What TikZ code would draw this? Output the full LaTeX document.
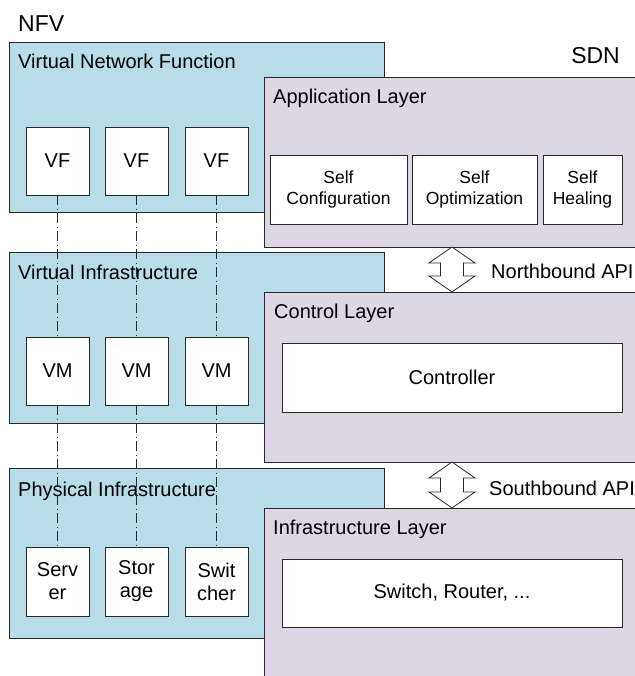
\documentclass[tikz,border=0pt]{standalone}
\usepackage{fontspec}
\setmainfont{Liberation Sans}
\definecolor{nfvblue}{RGB}{183,221,232}
\definecolor{sdnpurple}{RGB}{221,215,229}
\definecolor{edgegray}{RGB}{40,40,40}
\newcommand\dblblock[2]{%
  \draw[blockarrow] (#1) -- ([shift={(23,16)}]#1) -- ([shift={(11.5,16)}]#1)
    -- ([shift={(11.5,-16)}]#2) -- ([shift={(23,-16)}]#2) -- (#2)
    -- ([shift={(-23,-16)}]#2) -- ([shift={(-11.5,-16)}]#2)
    -- ([shift={(-11.5,16)}]#1) -- ([shift={(-23,16)}]#1) -- cycle;}
\begin{document}
\begin{tikzpicture}[x=1pt,y=-1pt,
  layer/.style={draw=edgegray, line width=0.8pt, inner sep=0pt, outer sep=0pt, anchor=north west},
  nfvlayer/.style={layer, fill=nfvblue},
  sdnlayer/.style={layer, fill=sdnpurple},
  inbox/.style={draw=edgegray, line width=0.8pt, fill=white, inner sep=0pt, outer sep=0pt, anchor=north west, align=center, font=\fontsize{20}{23}\selectfont},
  smallbox/.style={inbox, minimum width=63pt},
  selfbox/.style={inbox, minimum height=69pt, font=\fontsize{17.5}{20.5}\selectfont},
  lbl/.style={anchor=base west, inner sep=0pt, font=\fontsize{20}{24}\selectfont},
  ttl/.style={inner sep=0pt, font=\fontsize{23}{26}\selectfont},
  link/.style={line width=0.8pt, draw=edgegray, dash pattern=on 10pt off 3.5pt on 1pt off 3.5pt},
  blockarrow/.style={draw=edgegray, line width=0.8pt, fill=white, line join=miter}
]
\useasboundingbox (0,0) rectangle (634,676);

% titles
\node[ttl, anchor=base west] (nfv) at (18,31.5) {NFV};
\node[ttl, anchor=base east] (sdn) at (620,63.3) {SDN};

% ---- Virtual Network Function / Application Layer
\node[nfvlayer, minimum width=375pt, minimum height=170pt] (vnf) at (9,42) {};
\node[lbl] (vnflbl) at (18,68.5) {Virtual Network Function};
\node[smallbox, minimum height=68pt] (vf1) at (26,127) {VF};
\node[smallbox, minimum height=68pt] (vf2) at (105,127) {VF};
\node[smallbox, minimum height=68pt] (vf3) at (185,127) {VF};

\node[sdnlayer, minimum width=376pt, minimum height=170pt] (app) at (264,77) {};
\node[lbl] (applbl) at (273,103.3) {Application Layer};
\node[selfbox, minimum width=137pt] (sc) at (270,155) {Self\\Configuration};
\node[selfbox, minimum width=125pt] (so) at (412,155) {Self\\Optimization};
\node[selfbox, minimum width=79pt] (sh) at (543,155) {Self\\Healing};

% ---- Virtual Infrastructure / Control Layer
\node[nfvlayer, minimum width=375pt, minimum height=171pt] (vi) at (9,252) {};
\node[lbl] (vilbl) at (18,279) {Virtual Infrastructure};
\node[smallbox, minimum height=68pt] (vm1) at (26,337) {VM};
\node[smallbox, minimum height=68pt] (vm2) at (105,337) {VM};
\node[smallbox, minimum height=68pt] (vm3) at (185,337) {VM};

\node[sdnlayer, minimum width=376pt, minimum height=170pt] (ctl) at (264,292) {};
\node[lbl] (ctllbl) at (274,318) {Control Layer};
\node[inbox, minimum width=340pt, minimum height=69pt] (cont) at (282,343) {Controller};

% ---- Physical Infrastructure / Infrastructure Layer
\node[nfvlayer, minimum width=375pt, minimum height=170pt] (pi) at (9,468) {};
\node[lbl] (pilbl) at (18,496) {Physical Infrastructure};
\node[smallbox, minimum height=69pt] (srv) at (26,547) {Serv\\er};
\node[smallbox, minimum height=69pt] (sto) at (105,547) {Stor\\age};
\node[smallbox, minimum height=69pt] (swi) at (185,547) {Swit\\cher};

\node[sdnlayer, minimum width=376pt, minimum height=182pt] (inf) at (264,508) {};
\node[lbl] (inflbl) at (273,534) {Infrastructure Layer};
\node[inbox, minimum width=340pt, minimum height=68pt] (sw) at (282,559) {Switch, Router, ...};

% ---- API arrows
\coordinate (ax) at (452,0);
\coordinate (nt) at (app.south -| ax);
\coordinate (nb) at (ctl.north -| ax);
\coordinate (st) at (ctl.south -| ax);
\coordinate (sb) at (inf.north -| ax);
\dblblock{nt}{nb}
\dblblock{st}{sb}
\node[lbl] (nbl) at (491,278.3) {Northbound API};
\node[lbl] (sbl) at (489,495) {Southbound API};

% ---- dash-dot links
\draw[link] (vf1.south) -- (vm1.north);
\draw[link] (vf2.south) -- (vm2.north);
\draw[link] (vf3.south) -- (vm3.north);
\draw[link] (vm1.south) -- (srv.north);
\draw[link] (vm2.south) -- (sto.north);
\draw[link] (vm3.south) -- (swi.north);
\end{tikzpicture}
\end{document}
